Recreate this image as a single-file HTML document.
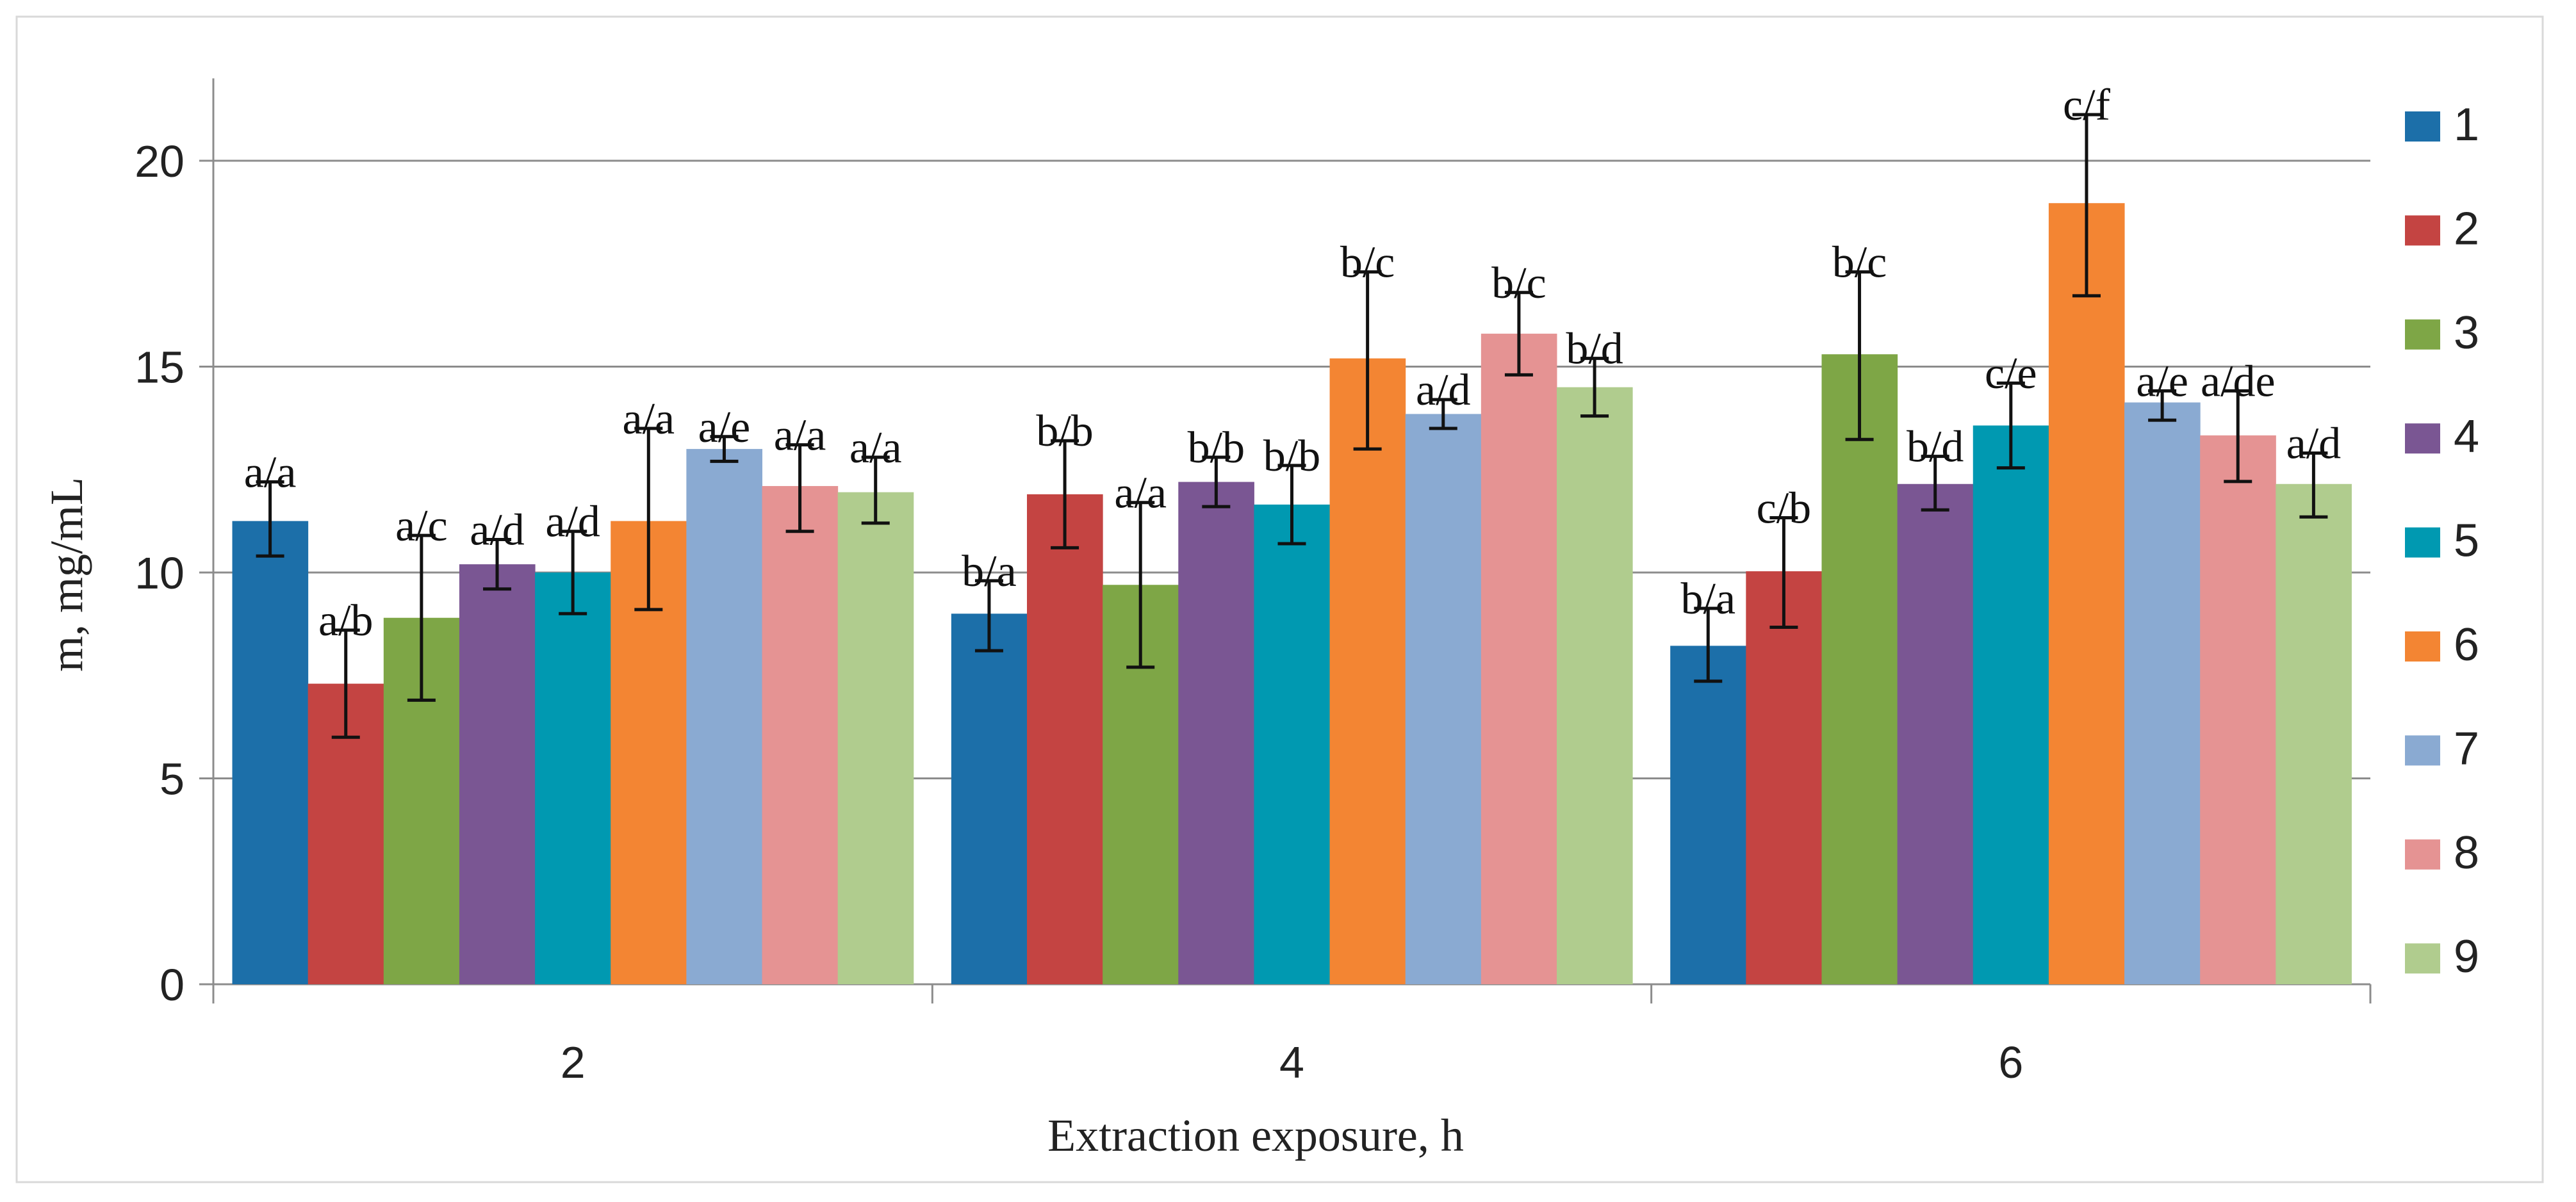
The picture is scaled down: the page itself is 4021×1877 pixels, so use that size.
<!DOCTYPE html>
<html><head><meta charset="utf-8"><style>
html,body{margin:0;padding:0;background:#fff;}
svg{display:block;}
</style></head><body>
<svg id="chart" width="4021" height="1877" viewBox="0 0 4021 1877" xmlns="http://www.w3.org/2000/svg">
<rect x="26" y="26" width="3943" height="1820" fill="#fff" stroke="#d9d9d9" stroke-width="3"/>
<g id="grid"></g><g id="bars"></g><g id="axes"></g><g id="labels"></g><g id="legend"></g>
<text transform="translate(128,897) rotate(-90)" text-anchor="middle" font-family="Liberation Serif, serif" font-size="72" fill="#222">m, mg/mL</text>
<text x="1960" y="1797" text-anchor="middle" font-family="Liberation Serif, serif" font-size="72" fill="#222">Extraction exposure, h</text>
</svg>
<script>
const categories = ["2","4","6"];
const seriesNames = ["1","2","3","4","5","6","7","8","9"];
const colors = ["#1c6fa9","#c44442","#7ea646","#7a5693","#0099b1","#f38533","#8aaad2","#e59393","#b0cc8e"];
const yTicks = [0,5,10,15,20];
const values = [
 [11.25,7.3,8.9,10.2,10.0,11.25,13.0,12.1,11.95],
 [9.0,11.9,9.7,12.2,11.65,15.2,13.85,15.8,14.5],
 [8.22,10.03,15.3,12.15,13.57,18.97,14.13,13.33,12.15]
];
const errLo = [
 [10.4,6.0,6.9,9.6,9.0,9.1,12.7,11.0,11.2],
 [8.1,10.6,7.7,11.6,10.7,13.0,13.5,14.8,13.8],
 [7.36,8.67,13.23,11.52,12.54,16.72,13.7,12.21,11.35]
];
const errHi = [
 [12.2,8.6,10.9,10.8,11.0,13.5,13.3,13.1,12.8],
 [9.8,13.2,11.7,12.8,12.6,17.3,14.2,16.8,15.2],
 [9.13,11.33,17.3,12.82,14.6,21.12,14.41,14.41,12.9]
];
const sigLabels = [
 ["a/a","a/b","a/c","a/d","a/d","a/a","a/e","a/a","a/a"],
 ["b/a","b/b","a/a","b/b","b/b","b/c","a/d","b/c","b/d"],
 ["b/a","c/b","b/c","b/d","c/e","c/f","a/e","a/de","a/d"]
];
const NS="http://www.w3.org/2000/svg";
const X0=333,X1=3700,Y0=1537,Ytop=251-321.5*2/5;
function y(v){return Y0-v*(Y0-251)/20;}
const catW=(X1-X0)/categories.length;
const barW=catW/(seriesNames.length+0.5);
function xBar(c,s){return X0+c*catW+barW*0.25+s*barW;}
function mk(parent,tag,attrs){const e=document.createElementNS(NS,tag);for(const k in attrs)e.setAttribute(k,attrs[k]);document.getElementById(parent).appendChild(e);return e;}
yTicks.forEach(t=>{
 let l=mk('grid','line',{x1:X0-22,x2:X1,y1:y(t),y2:y(t),stroke:'#8c8c8c','stroke-width':3});
 
 
 let tx=mk('axes','text',{x:X0-45,y:y(t)+25,'text-anchor':'end','font-family':'Liberation Sans, sans-serif','font-size':70,fill:'#222'});
 tx.textContent=t;
 
 
});
let ya=mk('axes','line',{x1:X0,x2:X0,y1:Ytop,y2:Y0+30,stroke:'#8c8c8c','stroke-width':3});


for(let c=0;c<=categories.length;c++){
 let l=mk('axes','line',{x1:X0+c*catW,x2:X0+c*catW,y1:Y0,y2:Y0+30,stroke:'#8c8c8c','stroke-width':3});
 
 
}
categories.forEach((c,i)=>{
 let t=mk('axes','text',{x:X0+(i+0.5)*catW,y:1683,'text-anchor':'middle','font-family':'Liberation Sans, sans-serif','font-size':70,fill:'#222'});
 t.textContent=c;
 
 
});
values.forEach((row,c)=>row.forEach((v,s)=>{
 const x=xBar(c,s);
 let r=mk('bars','rect',{x:x,y:y(v),width:barW+0.5,height:Y0-y(v),fill:colors[s]});
 
 
 const cx=x+barW/2,yl=y(errLo[c][s]),yh=y(errHi[c][s]);
 let e=mk('labels','path',{d:`M${cx},${yl}V${yh}M${cx-22},${yl}H${cx+22}M${cx-22},${yh}H${cx+22}`,stroke:'#111','stroke-width':5,fill:'none'});
 
 
 let t=mk('labels','text',{x:cx,y:yh+8,'text-anchor':'middle','font-family':'Liberation Serif, serif','font-size':70,fill:'#111'});
 t.textContent=sigLabels[c][s];
 
 
}));
seriesNames.forEach((n,i)=>{
 const yy=174+i*162.4;
 let r=mk('legend','rect',{x:3754,y:yy,width:55,height:47,fill:colors[i]});
 
 
 let t=mk('legend','text',{x:3830,y:yy+45,'font-family':'Liberation Sans, sans-serif','font-size':72,fill:'#222'});
 t.textContent=n;
 
 
});
</script>
</body></html>
